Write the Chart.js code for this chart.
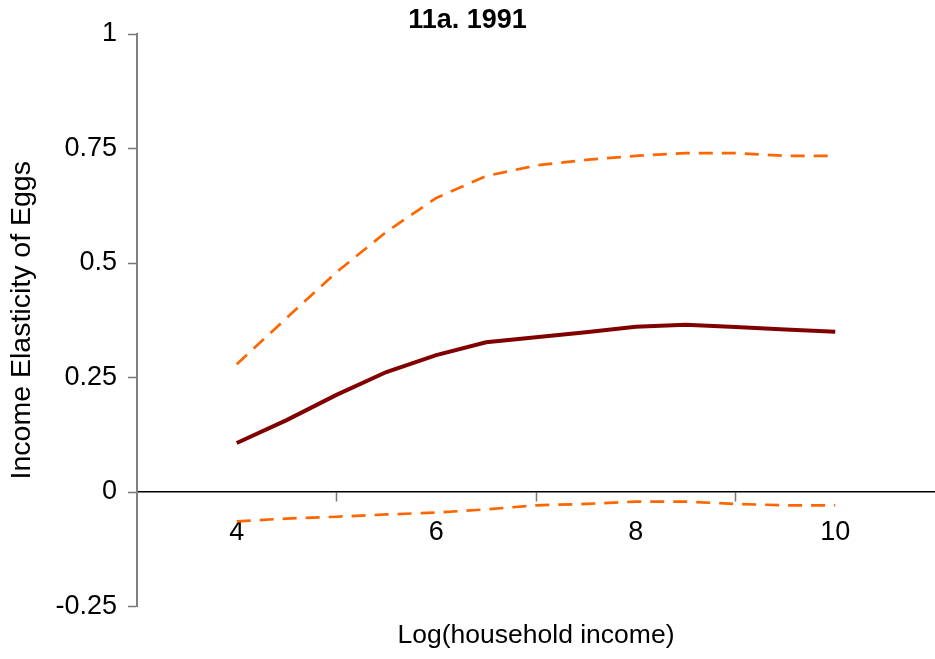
<!DOCTYPE html>
<html>
<head>
<meta charset="utf-8">
<script src="https://cdn.jsdelivr.net/npm/chart.js@4"></script>
<style>
  html, body { margin: 0; padding: 0; background: #fff; }
  #wrap { width: 935px; height: 659px; }
</style>
</head>
<body>
<div id="wrap"><canvas id="eggChart"></canvas></div>
<script>
// log household income grid
const incomeX = [4, 4.5, 5, 5.5, 6, 6.5, 7, 7.5, 8, 8.5, 9, 9.5, 10];
// estimated elasticity and its bounds
const elasticity = [0.107, 0.157, 0.212, 0.262, 0.299, 0.327, 0.338, 0.349, 0.361, 0.365, 0.360, 0.355, 0.350];
const upperBand = [0.279, 0.380, 0.480, 0.568, 0.642, 0.690, 0.713, 0.725, 0.734, 0.740, 0.740, 0.734, 0.734];
const lowerBand = [-0.064, -0.058, -0.054, -0.049, -0.045, -0.038, -0.029, -0.026, -0.021, -0.021, -0.026, -0.029, -0.029];
const xLabelTicks = [4, 6, 8, 10];
const xMarkTicks = [5, 7, 9];

const toPoints = (ys) => incomeX.map((x, i) => ({ x: x, y: ys[i] }));
const font = 'Liberation Sans, Arial, sans-serif';

document.addEventListener('DOMContentLoaded', () => {
    const ctx = document.getElementById('eggChart').getContext('2d');

    new Chart(ctx, {
        type: 'line',
        data: {
            datasets: [
                {
                    label: 'Upper',
                    data: toPoints(upperBand),
                    borderColor: '#FF6600',
                    borderWidth: 2.7,
                    borderDash: [14, 9],
                    pointRadius: 0,
                    tension: 0,
                    fill: false,
                },
                {
                    label: 'Elasticity',
                    data: toPoints(elasticity),
                    borderColor: '#800000',
                    borderWidth: 4,
                    pointRadius: 0,
                    tension: 0,
                    fill: false,
                },
                {
                    label: 'Lower',
                    data: toPoints(lowerBand),
                    borderColor: '#FF6600',
                    borderWidth: 2.7,
                    borderDash: [14, 9],
                    pointRadius: 0,
                    tension: 0,
                    fill: false,
                },
            ],
        },
        options: {
            responsive: true,
            maintainAspectRatio: false,
            animation: false,
            layout: { autoPadding: false, padding: 0 },
            plugins: {
                legend: { display: false },
                tooltip: { enabled: false },
                title: {
                    display: true,
                    text: '11a. 1991',
                    color: '#000',
                    font: { size: 27, weight: 'bold', family: font, lineHeight: 1.0 },
                    padding: { top: 7, bottom: 0 },
                },
            },
            scales: {
                x: {
                    type: 'linear',
                    min: 3,
                    max: 11,
                    position: { y: 0 },
                    border: { display: true, color: '#000', width: 1.5 },
                    grid: {
                        drawOnChartArea: false,
                        drawTicks: true,
                        tickLength: 9,
                        tickWidth: 1.5,
                        tickColor: (c) => c.tick && xMarkTicks.includes(c.tick.value) ? '#777' : 'rgba(0,0,0,0)',
                    },
                    ticks: {
                        stepSize: 1,
                        padding: 15,
                        color: '#000',
                        font: { size: 27, family: font },
                        maxRotation: 0,
                        autoSkip: false,
                        callback: (v) => xLabelTicks.includes(v) ? String(v) : '',
                    },
                    afterFit: (scale) => { scale.paddingLeft = 0; scale.paddingRight = 0; },
                },
                x2: {
                    type: 'linear',
                    position: 'bottom',
                    axis: 'x',
                    min: 3,
                    max: 11,
                    border: { display: false },
                    grid: { display: false, drawTicks: false },
                    ticks: { display: false },
                    title: {
                        display: true,
                        text: 'Log(household income)',
                        color: '#000',
                        font: { size: 26.5, family: font },
                        padding: { top: 8, bottom: 7 },
                    },
                    afterFit: (scale) => { scale.height = 52.5; },
                },
                y: {
                    min: -0.25,
                    max: 1,
                    border: { display: true, color: '#808080', width: 2 },
                    grid: {
                        drawOnChartArea: false,
                        drawTicks: true,
                        tickLength: 9,
                        tickWidth: 1.5,
                        tickColor: '#777',
                    },
                    ticks: {
                        stepSize: 0.25,
                        padding: 11,
                        color: '#000',
                        font: { size: 27, family: font },
                        callback: (v) => String(Math.round(v * 100) / 100),
                    },
                    title: {
                        display: true,
                        text: 'Income Elasticity of Eggs',
                        color: '#000',
                        font: { size: 28.5, family: font },
                        padding: { top: 5, bottom: 0 },
                    },
                    afterFit: (scale) => { scale.width = 137; },
                },
            },
        },
    });
});
</script>
</body>
</html>
